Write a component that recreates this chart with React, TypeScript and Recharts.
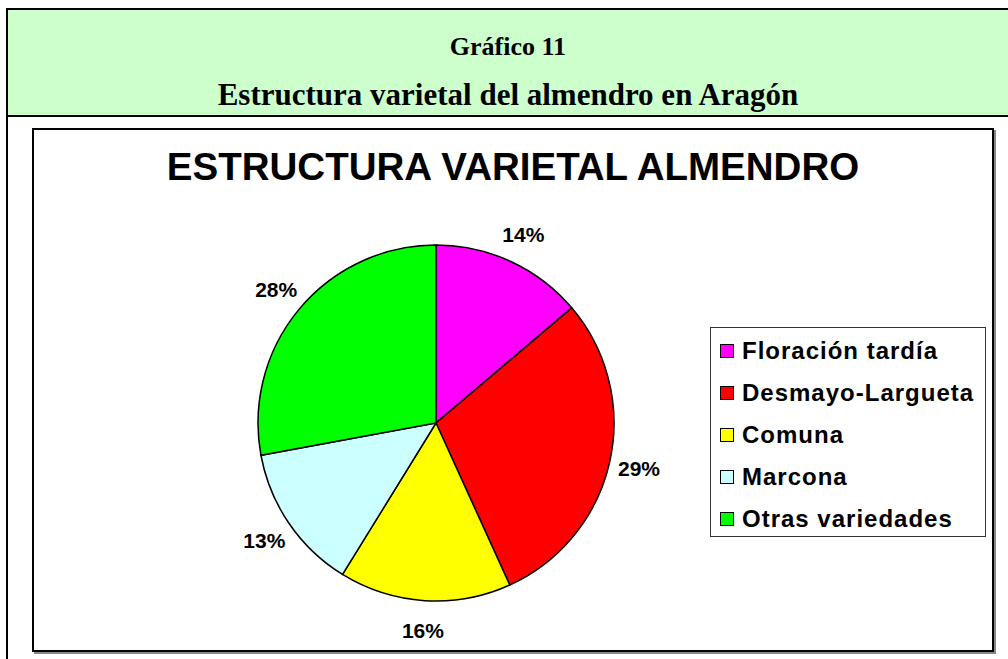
import { PieChart, Pie, Cell, Legend } from 'recharts'

const categories = [
  'Floración tardía',
  'Desmayo-Largueta',
  'Comuna',
  'Marcona',
  'Otras variedades',
]
const shares = [13.8, 29.4, 15.6, 13.3, 27.9]
const sliceColors = ['#FF00FF', '#FF0000', '#FFFF00', '#CCFFFF', '#00FF00']

const data = categories.map((name, i) => ({ name, value: shares[i] }))

const RAD = Math.PI / 180

const renderLabel = (props: any) => {
  const { cx, cy, midAngle, outerRadius, percent } = props
  const r = outerRadius + 30
  const x = cx + r * Math.cos(-midAngle * RAD)
  const y = cy + r * Math.sin(-midAngle * RAD)
  return (
    <text
      x={x}
      y={y}
      textAnchor='middle'
      dominantBaseline='central'
      fontFamily='Liberation Sans, Arial, sans-serif'
      fontWeight='bold'
      fontSize={21}
      fill='#000'
    >
      {`${Math.round(percent * 100)}%`}
    </text>
  )
}

const LegendBox = ({ payload }: any) => {
  // keep the slice order, recharts sorts the legend by name
  const items = [...(payload || [])].sort(
    (a: any, b: any) => categories.indexOf(a.value) - categories.indexOf(b.value)
  )
  return (
    <div
      style={{
        width: 276,
        height: 210,
        border: '1px solid #333',
        background: '#fff',
        boxSizing: 'border-box',
        padding: '2px 0 0 9px',
        fontFamily: 'Liberation Sans, Arial, sans-serif',
        fontWeight: 'bold',
        fontSize: 24,
        letterSpacing: 1,
        color: '#000',
      }}
    >
      {items.map((p: any) => (
        <div
          key={p.value}
          style={{ display: 'flex', alignItems: 'center', height: 42, whiteSpace: 'nowrap' }}
        >
          <span
            style={{
              width: 12,
              height: 12,
              background: p.color,
              border: '1px solid #000',
              marginRight: 8,
              flexShrink: 0,
            }}
          />
          <span>{p.value}</span>
        </div>
      ))}
    </div>
  )
}

export default function App() {
  return (
    <div
      style={{
        position: 'relative',
        width: 1008,
        height: 659,
        background: '#fff',
        overflow: 'hidden',
      }}
    >
      <style>{'body{margin:0}'}</style>
      {/* outer frame + green header */}
      <div
        style={{
          position: 'absolute',
          left: 6,
          top: 8,
          width: 1010,
          height: 700,
          borderLeft: '2px solid #000',
          borderTop: '2px solid #000',
        }}
      />
      <div
        style={{
          position: 'absolute',
          left: 8,
          top: 10,
          width: 1000,
          height: 105,
          background: '#CCFFCC',
          borderBottom: '2px solid #000',
          fontFamily: 'Liberation Serif, Times New Roman, serif',
          fontWeight: 'bold',
          color: '#000',
          textAlign: 'center',
        }}
      >
        <div style={{ position: 'absolute', left: 0, right: 0, top: 22, fontSize: 26 }}>
          Gráfico 11
        </div>
        <div style={{ position: 'absolute', left: 0, right: 0, top: 67, fontSize: 31 }}>
          Estructura varietal del almendro en Aragón
        </div>
      </div>
      {/* chart box */}
      <div
        style={{
          position: 'absolute',
          left: 32,
          top: 128,
          width: 962,
          height: 524,
          border: '2px solid #000',
          boxShadow: '2px 2px 0 #888',
          boxSizing: 'border-box',
          background: '#fff',
        }}
      >
        <div
          style={{
            position: 'absolute',
            left: 0,
            right: 0,
            top: 15,
            textAlign: 'center',
            fontFamily: 'Liberation Sans, Arial, sans-serif',
            fontWeight: 'bold',
            fontSize: 38.5,
            color: '#000',
          }}
        >
          ESTRUCTURA VARIETAL ALMENDRO
        </div>
        <PieChart width={958} height={520} style={{ position: 'absolute', left: 0, top: 0 }}>
          <Pie
            data={data}
            dataKey='value'
            nameKey='name'
            cx={397}
            cy={288}
            outerRadius={178}
            startAngle={90}
            endAngle={-270}
            stroke='#000'
            strokeWidth={1.5}
            label={renderLabel}
            labelLine={false}
            isAnimationActive={false}
          >
            {data.map((d, i) => (
              <Cell key={d.name} fill={sliceColors[i]} />
            ))}
          </Pie>
          <Legend
            layout='vertical'
            content={<LegendBox />}
            wrapperStyle={{ position: 'absolute', left: 676, top: 197, width: 276 }}
          />
        </PieChart>
      </div>
    </div>
  )
}
